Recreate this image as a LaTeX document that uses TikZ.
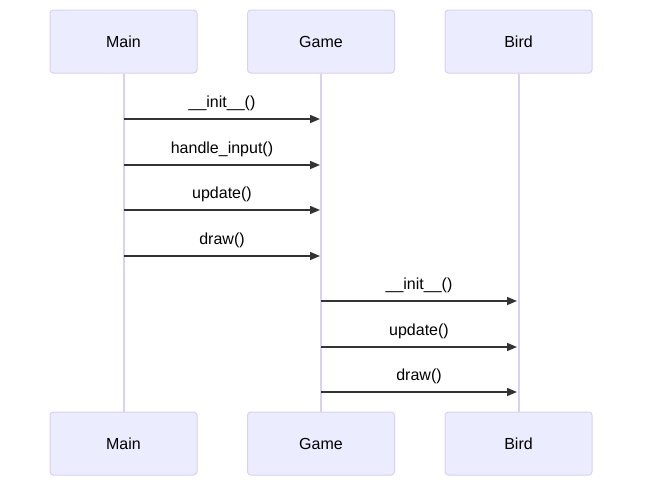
\documentclass[tikz,border=0pt]{standalone}
\usepackage{fontspec}
\setmainfont{Liberation Sans}
\usetikzlibrary{arrows.meta}
\definecolor{actfill}{HTML}{ECECFF}
\definecolor{actline}{HTML}{D9D0F2}
\definecolor{msgcol}{HTML}{333333}
\begin{document}
\begin{tikzpicture}[x=0.75pt,y=-0.75pt,
  actor/.style={draw=actline,fill=actfill,line width=0.75pt,rounded corners=2.5pt,
    minimum width=110.25pt,minimum height=47.25pt,inner sep=0pt,font=\fontsize{12pt}{14pt}\selectfont},
  life/.style={draw=actline,line width=1.5pt},
  msg/.style={draw=msgcol,line width=1.1pt,-{Triangle[length=7.5pt,width=6pt]}},
  lbl/.style={font=\fontsize{12pt}{14pt}\selectfont,text=black,inner sep=0pt}]
\useasboundingbox (0,0) rectangle (650,493);
% actors
\node[actor] (mt) at (123.5,41.5) {Main};
\node[actor] (gt) at (321,41.5) {Game};
\node[actor] (bt) at (518.5,41.5) {Bird};
\node[actor] (mb) at (123.5,443.5) {Main};
\node[actor] (gb) at (321,443.5) {Game};
\node[actor] (bb) at (518.5,443.5) {Bird};
% lifelines
\draw[life] (mt.south) -- (mb.north);
\draw[life] (gt.south) -- (gb.north);
\draw[life] (bt.south) -- (bb.north);
% message anchors
\foreach \n/\y in {1/119,2/165,3/210,4/256}{
  \coordinate (ma\n) at (124,\y);
  \coordinate (ga\n) at (320,\y);
}
\foreach \n/\y in {5/301,6/347,7/392}{
  \coordinate (gs\n) at (321,\y);
  \coordinate (bs\n) at (517,\y);
}
\draw[msg] (ma1) -- node[lbl,above=5.5pt] {\_\_init\_\_()} (ga1);
\draw[msg] (ma2) -- node[lbl,above=5.5pt] {handle\_input()} (ga2);
\draw[msg] (ma3) -- node[lbl,above=5.5pt] {update()} (ga3);
\draw[msg] (ma4) -- node[lbl,above=5.5pt] {draw()} (ga4);
\draw[msg] (gs5) -- node[lbl,above=5.5pt] {\_\_init\_\_()} (bs5);
\draw[msg] (gs6) -- node[lbl,above=5.5pt] {update()} (bs6);
\draw[msg] (gs7) -- node[lbl,above=5.5pt] {draw()} (bs7);
\end{tikzpicture}
\end{document}
